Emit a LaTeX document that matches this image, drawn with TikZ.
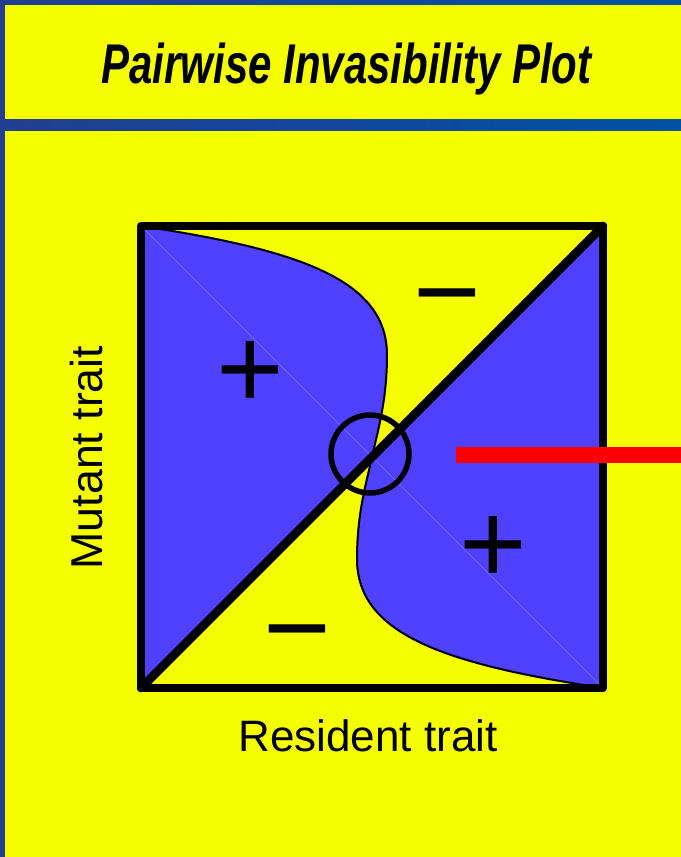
\documentclass[tikz,border=0pt]{standalone}
\usepackage{fontspec}
\setmainfont{Liberation Sans}
\definecolor{bgL}{RGB}{34,62,146}
\definecolor{bgR}{RGB}{0,82,162}
\definecolor{ylw}{RGB}{245,255,0}
\definecolor{pipblue}{RGB}{80,64,255}
\definecolor{seam}{RGB}{125,115,255}
\begin{document}
\begin{tikzpicture}[x=0.75pt,y=-0.75pt,
  sign/.style={font=\fontsize{87}{87}\selectfont, inner sep=0pt},
  axislabel/.style={font=\fontsize{33}{33}\selectfont, inner sep=0pt, anchor=base},
  frame/.style={line width=6.4pt, line join=round, line cap=round}]
\useasboundingbox (0,0) rectangle (681,857);
\shade[left color=bgL, right color=bgR] (0,0) rectangle (681,857);
\fill[ylw] (5,5) rectangle (681,119);
\fill[ylw] (5,131) rectangle (681,857);
\coordinate (TL) at (141,226);
\coordinate (TR) at (603,226);
\coordinate (BL) at (141,688);
\coordinate (BR) at (603,688);
\coordinate (C) at (372,457);
\coordinate (M1) at (387,355);
\coordinate (M2) at (357,559);
% invasion regions
\fill[pipblue] (BL) -- (TL) .. controls (300,250) and (387,280) .. (M1)
   .. controls (387,400) and (378,430) .. (C) -- cycle;
\fill[pipblue] (C) .. controls (366,484) and (357,514) .. (M2)
   .. controls (357,634) and (444,664) .. (BR) -- (TR) -- cycle;
\draw[seam, line width=0.5pt] (TL) -- (BR);
% boundary curve
\draw[line width=1.5pt] (TL) .. controls (300,250) and (387,280) .. (M1)
   .. controls (387,400) and (378,430) .. (C)
   .. controls (366,484) and (357,514) .. (M2)
   .. controls (357,634) and (444,664) .. (BR);
% diagonal and frame
\draw[frame] (BL) -- (TR);
\draw[frame] (TL) rectangle (BR);
% singular strategy
\node[circle, draw, line width=4.1pt, minimum size=58.5pt, inner sep=0pt] (ess) at (370,454) {};
% red pointer
\coordinate (redend) at (681,454.7);
\draw[red, line width=12pt] (456,454.7) -- (redend);
% signs
\node[sign] (p1) at (250,375) {+};
\node[sign] (p2) at (493,550) {+};
\node[sign] (m1) at (447,310) {−};
\node[sign] (m2) at (297,646) {−};
% labels
\node[font=\fontsize{42}{42}\selectfont\bfseries\itshape, inner sep=0pt, anchor=base] (title) at (346.5,83)
  {\scalebox{0.75}[1]{Pairwise Invasibility Plot}};
\node[axislabel] (xl) at (368,751) {Resident trait};
\node[axislabel, font=\fontsize{33.5}{33.5}\selectfont, rotate=90] (yl) at (102,457.5) {Mutant trait};
\end{tikzpicture}
\end{document}
